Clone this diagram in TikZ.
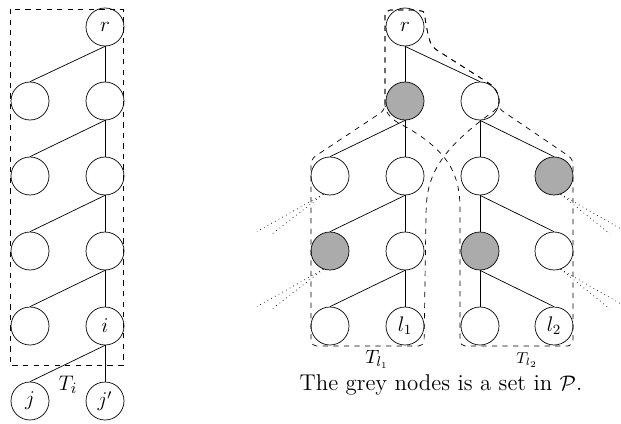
\documentclass[tikz,border=0pt]{standalone}
\usepackage{amsbsy, amsfonts}
\usepackage{tikz}
\usetikzlibrary{arrows,backgrounds}

\begin{document}
\begin{tikzpicture}[
    vertex/.style={draw, circle, minimum size=0.76cm, inner sep=0pt, font=\large},
    grey vertex/.style={vertex, fill=black!33},
    region line/.style={dashed, rounded corners=3pt},
    cut line/.style={dotted},
    big text/.style={font=\fontsize{13}{15}\selectfont},
    every node/.style={color=black}
    ]
\useasboundingbox (0,0) rectangle (12.42,-8.46);

% left tree, the path down to i
\node[vertex] (lr) at (2.1,-0.54) {$r$};
\node[vertex] (la1) at (0.6,-2.02) {};
\node[vertex] (lb1) at (2.1,-2.02) {};
\node[vertex] (la2) at (0.6,-3.52) {};
\node[vertex] (lb2) at (2.1,-3.52) {};
\node[vertex] (la3) at (0.6,-5.02) {};
\node[vertex] (lb3) at (2.1,-5.02) {};
\node[vertex] (la4) at (0.6,-6.52) {};
\node[vertex] (lb4) at (2.1,-6.52) {$i$};
\node[vertex] (lj) at (0.6,-8.02) {$j$};
\node[vertex] (ljj) at (2.1,-8.02) {$j'$};

\draw (lr.south) -- (la1.north);
\draw (lr) -- (lb1);
\draw (lb1.south) -- (la2.north);
\draw (lb1) -- (lb2);
\draw (lb2.south) -- (la3.north);
\draw (lb2) -- (lb3);
\draw (lb3.south) -- (la4.north);
\draw (lb3) -- (lb4);
\draw (lb4.south) -- (lj.north);
\draw (lb4) -- (ljj);

\draw[dashed] (0.2,-0.18) rectangle (2.46,-7.3);
\node[big text] (ti) at (1.36,-7.7) {$T_i$};

% right tree
\node[vertex] (rr) at (8.1,-0.54) {$r$};
\node[grey vertex] (g1) at (8.1,-2.02) {};
\node[vertex] (w1) at (9.6,-2.02) {};

\node[vertex] (ra2) at (6.6,-3.52) {};
\node[vertex] (rb2) at (8.1,-3.52) {};
\node[vertex] (rc2) at (9.6,-3.52) {};
\node[grey vertex] (rd2) at (11.08,-3.52) {};

\node[grey vertex] (ra3) at (6.6,-5.02) {};
\node[vertex] (rb3) at (8.1,-5.02) {};
\node[grey vertex] (rc3) at (9.6,-5.02) {};
\node[vertex] (rd3) at (11.08,-5.02) {};

\node[vertex] (ra4) at (6.6,-6.52) {};
\node[vertex] (rb4) at (8.1,-6.52) {$l_1$};
\node[vertex] (rc4) at (9.6,-6.52) {};
\node[vertex] (rd4) at (11.08,-6.52) {$l_2$};

\draw (rr) -- (g1);
\draw (rr.south) -- (w1.north);
\draw (g1.south) -- (ra2.north);
\draw (g1) -- (rb2);
\draw (w1) -- (rc2);
\draw (w1.south) -- (rd2.north);
\draw (rb2.south) -- (ra3.north);
\draw (rb2) -- (rb3);
\draw (rc2) -- (rc3);
\draw (rc2.south) -- (rd3.north);
\draw (rb3.south) -- (ra4.north);
\draw (rb3) -- (rb4);
\draw (rc3) -- (rc4);
\draw (rc3.south) -- (rd4.north);

% edges leaving the picture
\coordinate (cuta1) at (5.14,-4.63);
\coordinate (cutb1) at (5.44,-4.68);
\coordinate (cuta2) at (5.14,-6.13);
\coordinate (cutb2) at (5.44,-6.18);
\coordinate (cutc1) at (12.42,-4.58);
\coordinate (cutd1) at (12.2,-4.68);
\coordinate (cutc2) at (12.42,-6.08);
\coordinate (cutd2) at (12.2,-6.18);

\draw[cut line] (ra2.250) -- (cuta1);
\draw[cut line] (ra2.250) -- (cutb1);
\draw[cut line] (ra3.250) -- (cuta2);
\draw[cut line] (ra3.250) -- (cutb2);
\draw[cut line] (rd2.290) -- (cutc1);
\draw[cut line] (rd2.290) -- (cutd1);
\draw[cut line] (rd3.290) -- (cutc2);
\draw[cut line] (rd3.290) -- (cutd2);

% the two regions
\draw[region line] (7.7,-2.2) -- (7.7,-0.2) -- (8.36,-0.2)
    .. controls (8.5,-0.24) and (8.52,-0.6) .. (8.64,-0.94) -- (9.74,-1.64)
    .. controls (9.92,-1.76) and (10.0,-1.95) .. (9.96,-2.16)
    .. controls (8.8,-3.0) and (8.54,-3.5) .. (8.52,-4.3)
    -- (8.48,-6.92) -- (6.22,-6.92) -- (6.22,-3.18) -- cycle;

\draw[region line] (7.7,-2.2) -- (7.7,-0.2) -- (8.36,-0.2)
    .. controls (8.5,-0.24) and (8.52,-0.6) .. (8.64,-0.94) -- (9.74,-1.64)
    .. controls (9.92,-1.76) and (10.0,-1.95) .. (9.96,-2.16)
    -- (11.46,-3.18) -- (11.46,-6.92) -- (9.2,-6.92) -- (9.2,-4.3)
    .. controls (9.2,-3.5) and (9.0,-3.0) .. (7.86,-2.4) -- cycle;

\node[font=\fontsize{11}{13}\selectfont, inner sep=0pt] (tl1) at (7.54,-7.18) {$T_{l_1}$};
\node[font=\small, inner sep=0pt] (tl2) at (10.54,-7.2) {$T_{l_2}$};
\node[big text, inner sep=0pt] (caption) at (8.82,-7.7) {The grey nodes is a set in $\mathcal{P}$.};

\end{tikzpicture}
\end{document}
